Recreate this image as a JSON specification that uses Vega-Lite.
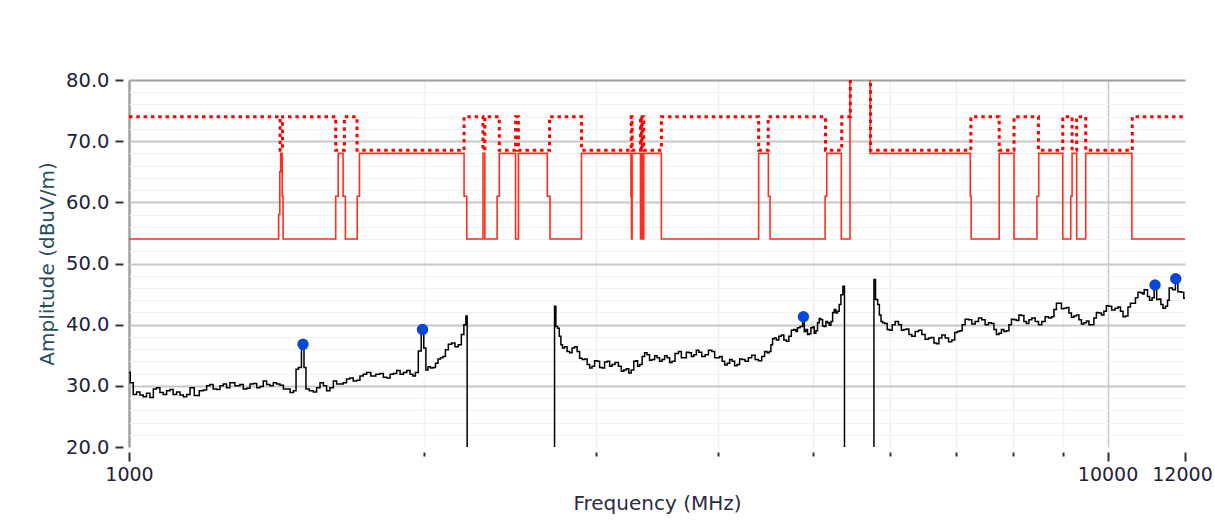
{
  "$schema": "https://vega.github.io/schema/vega-lite/v6.json",
  "width": 1056,
  "height": 367,
  "autosize": {"type": "none"},
  "padding": {"left": 129, "top": 80, "right": 30, "bottom": 78},
  "background": "white",
  "config": {
    "view": {"stroke": null},
    "font": "DejaVu Sans",
    "axis": {"labelFont": "DejaVu Sans", "titleFont": "DejaVu Sans"}
  },
  "datasets": {
    "trace": [
      {"freq":1000,"level":32.2},{"freq":1006,"level":30.5},{"freq":1014,"level":28.6},{"freq":1022,"level":29.0},{"freq":1030,"level":28.5},{"freq":1038,"level":28.2},{"freq":1046,"level":28.8},{"freq":1055,"level":28.1},{"freq":1063,"level":29.5},{"freq":1071,"level":29.7},{"freq":1080,"level":28.9},{"freq":1088,"level":28.6},{"freq":1097,"level":29.2},{"freq":1105,"level":29.4},{"freq":1114,"level":28.6},{"freq":1123,"level":29.0},{"freq":1132,"level":28.5},{"freq":1141,"level":28.2},{"freq":1150,"level":28.6},{"freq":1159,"level":29.7},{"freq":1173,"level":28.4},{"freq":1187,"level":29.2},{"freq":1196,"level":29.3},{"freq":1205,"level":30.0},{"freq":1214,"level":30.2},{"freq":1224,"level":29.5},{"freq":1234,"level":29.4},{"freq":1244,"level":30.0},{"freq":1253,"level":30.3},{"freq":1263,"level":29.7},{"freq":1273,"level":30.5},{"freq":1293,"level":30.0},{"freq":1303,"level":30.2},{"freq":1314,"level":29.5},{"freq":1324,"level":29.6},{"freq":1335,"level":30.3},{"freq":1345,"level":30.4},{"freq":1356,"level":29.7},{"freq":1366,"level":29.9},{"freq":1377,"level":30.8},{"freq":1388,"level":30.2},{"freq":1399,"level":30.0},{"freq":1410,"level":30.5},{"freq":1421,"level":30.3},{"freq":1432,"level":30.1},{"freq":1444,"level":29.5},{"freq":1455,"level":29.5},{"freq":1467,"level":28.9},{"freq":1478,"level":29.2},{"freq":1485,"level":32.7},{"freq":1495,"level":33.0},{"freq":1506,"level":36.8},{"freq":1513,"level":33.0},{"freq":1520,"level":29.5},{"freq":1537,"level":29.2},{"freq":1549,"level":29.0},{"freq":1561,"level":29.7},{"freq":1574,"level":30.5},{"freq":1586,"level":30.0},{"freq":1598,"level":29.2},{"freq":1611,"level":29.7},{"freq":1624,"level":30.8},{"freq":1636,"level":30.3},{"freq":1649,"level":30.3},{"freq":1662,"level":30.5},{"freq":1675,"level":31.1},{"freq":1688,"level":31.3},{"freq":1702,"level":30.8},{"freq":1715,"level":30.9},{"freq":1729,"level":31.6},{"freq":1742,"level":31.9},{"freq":1756,"level":32.2},{"freq":1777,"level":31.6},{"freq":1798,"level":31.9},{"freq":1812,"level":32.0},{"freq":1827,"level":31.4},{"freq":1841,"level":31.3},{"freq":1856,"level":31.9},{"freq":1870,"level":32.0},{"freq":1885,"level":32.5},{"freq":1900,"level":31.9},{"freq":1915,"level":32.2},{"freq":1930,"level":32.5},{"freq":1945,"level":31.9},{"freq":1956,"level":31.6},{"freq":1968,"level":32.2},{"freq":1983,"level":35.7},{"freq":1995,"level":39.2},{"freq":2007,"level":36.2},{"freq":2015,"level":32.6},{"freq":2027,"level":33.1},{"freq":2039,"level":32.9},{"freq":2051,"level":33.0},{"freq":2063,"level":33.7},{"freq":2075,"level":34.4},{"freq":2087,"level":34.6},{"freq":2099,"level":34.8},{"freq":2112,"level":35.9},{"freq":2128,"level":36.8},{"freq":2145,"level":37.0},{"freq":2162,"level":36.4},{"freq":2179,"level":36.7},{"freq":2193,"level":38.4},{"freq":2205,"level":40.0},{"freq":2214,"level":41.4},{"freq":2218,"level":10},
      {"freq":2719,"level":10},{"freq":2725,"level":43.0},{"freq":2736,"level":39.7},{"freq":2747,"level":39.4},{"freq":2758,"level":38.1},{"freq":2768,"level":36.7},{"freq":2779,"level":36.2},{"freq":2795,"level":36.4},{"freq":2812,"level":35.6},{"freq":2828,"level":35.4},{"freq":2845,"level":36.2},{"freq":2862,"level":36.4},{"freq":2879,"level":35.6},{"freq":2896,"level":34.5},{"freq":2913,"level":34.3},{"freq":2930,"level":34.4},{"freq":2948,"level":33.5},{"freq":2965,"level":32.9},{"freq":2982,"level":33.2},{"freq":3000,"level":34.1},{"freq":3018,"level":34.0},{"freq":3035,"level":33.0},{"freq":3053,"level":32.9},{"freq":3071,"level":33.9},{"freq":3090,"level":34.0},{"freq":3108,"level":33.2},{"freq":3126,"level":33.5},{"freq":3151,"level":33.8},{"freq":3176,"level":33.2},{"freq":3194,"level":32.4},{"freq":3213,"level":32.6},{"freq":3232,"level":32.8},{"freq":3251,"level":32.1},{"freq":3270,"level":32.6},{"freq":3290,"level":34.0},{"freq":3303,"level":34.1},{"freq":3316,"level":33.2},{"freq":3335,"level":33.5},{"freq":3355,"level":34.8},{"freq":3374,"level":35.4},{"freq":3394,"level":35.1},{"freq":3414,"level":34.2},{"freq":3435,"level":34.3},{"freq":3455,"level":34.9},{"freq":3475,"level":34.6},{"freq":3495,"level":34.0},{"freq":3516,"level":34.3},{"freq":3537,"level":34.9},{"freq":3558,"level":34.6},{"freq":3579,"level":33.8},{"freq":3600,"level":34.0},{"freq":3629,"level":35.3},{"freq":3658,"level":35.6},{"freq":3679,"level":34.6},{"freq":3701,"level":34.6},{"freq":3723,"level":35.5},{"freq":3745,"level":35.4},{"freq":3767,"level":34.8},{"freq":3789,"level":35.1},{"freq":3811,"level":35.8},{"freq":3834,"level":35.5},{"freq":3864,"level":34.8},{"freq":3895,"level":35.1},{"freq":3925,"level":35.8},{"freq":3956,"level":35.6},{"freq":3979,"level":34.6},{"freq":4002,"level":34.6},{"freq":4026,"level":34.8},{"freq":4050,"level":34.0},{"freq":4074,"level":33.4},{"freq":4098,"level":33.7},{"freq":4122,"level":34.3},{"freq":4146,"level":34.0},{"freq":4170,"level":33.3},{"freq":4195,"level":33.5},{"freq":4220,"level":34.4},{"freq":4245,"level":34.3},{"freq":4278,"level":34.0},{"freq":4312,"level":34.6},{"freq":4346,"level":35.0},{"freq":4381,"level":34.3},{"freq":4415,"level":34.1},{"freq":4449,"level":34.8},{"freq":4475,"level":35.6},{"freq":4502,"level":35.4},{"freq":4520,"level":35.6},{"freq":4538,"level":36.7},{"freq":4556,"level":37.7},{"freq":4574,"level":37.8},{"freq":4601,"level":37.5},{"freq":4628,"level":38.1},{"freq":4655,"level":38.3},{"freq":4683,"level":37.5},{"freq":4710,"level":37.3},{"freq":4738,"level":38.1},{"freq":4766,"level":39.1},{"freq":4794,"level":39.2},{"freq":4812,"level":38.9},{"freq":4831,"level":39.5},{"freq":4870,"level":39.7},{"freq":4889,"level":41.3},{"freq":4908,"level":38.9},{"freq":4927,"level":39.2},{"freq":4946,"level":38.4},{"freq":4966,"level":38.5},{"freq":4986,"level":39.5},{"freq":5005,"level":39.6},{"freq":5025,"level":38.6},{"freq":5044,"level":39.0},{"freq":5064,"level":40.3},{"freq":5084,"level":41.0},{"freq":5105,"level":40.8},{"freq":5125,"level":39.8},{"freq":5145,"level":39.7},{"freq":5165,"level":40.5},{"freq":5185,"level":40.3},{"freq":5206,"level":39.9},{"freq":5227,"level":40.5},{"freq":5247,"level":42.0},{"freq":5267,"level":42.5},{"freq":5287,"level":41.9},{"freq":5308,"level":42.2},{"freq":5329,"level":43.3},{"freq":5351,"level":44.9},{"freq":5380,"level":46.3},{"freq":5390,"level":10},
      {"freq":5768,"level":10},{"freq":5775,"level":47.4},{"freq":5811,"level":44.1},{"freq":5834,"level":43.3},{"freq":5857,"level":41.6},{"freq":5880,"level":40.5},{"freq":5902,"level":40.3},{"freq":5937,"level":40.2},{"freq":5972,"level":39.2},{"freq":6007,"level":39.1},{"freq":6043,"level":40.0},{"freq":6091,"level":40.5},{"freq":6139,"level":40.0},{"freq":6175,"level":39.1},{"freq":6212,"level":39.2},{"freq":6248,"level":39.3},{"freq":6285,"level":38.4},{"freq":6335,"level":38.1},{"freq":6385,"level":38.9},{"freq":6435,"level":39.1},{"freq":6485,"level":38.4},{"freq":6536,"level":37.6},{"freq":6588,"level":37.8},{"freq":6627,"level":37.9},{"freq":6666,"level":37.0},{"freq":6705,"level":36.9},{"freq":6745,"level":37.8},{"freq":6798,"level":38.3},{"freq":6852,"level":37.8},{"freq":6905,"level":37.2},{"freq":6959,"level":37.5},{"freq":7000,"level":38.7},{"freq":7042,"level":38.9},{"freq":7083,"level":39.0},{"freq":7125,"level":40.0},{"freq":7181,"level":40.9},{"freq":7238,"level":40.8},{"freq":7295,"level":40.1},{"freq":7353,"level":40.5},{"freq":7410,"level":41.1},{"freq":7468,"level":40.8},{"freq":7527,"level":40.0},{"freq":7587,"level":40.3},{"freq":7632,"level":40.2},{"freq":7677,"level":39.2},{"freq":7722,"level":38.4},{"freq":7768,"level":38.6},{"freq":7814,"level":39.2},{"freq":7860,"level":38.9},{"freq":7906,"level":39.0},{"freq":7953,"level":40.0},{"freq":8000,"level":40.9},{"freq":8047,"level":40.8},{"freq":8094,"level":40.7},{"freq":8142,"level":41.6},{"freq":8190,"level":41.5},{"freq":8238,"level":40.5},{"freq":8287,"level":40.2},{"freq":8336,"level":40.8},{"freq":8402,"level":41.1},{"freq":8468,"level":40.5},{"freq":8534,"level":40.0},{"freq":8601,"level":40.5},{"freq":8669,"level":41.3},{"freq":8738,"level":41.1},{"freq":8789,"level":41.3},{"freq":8841,"level":42.5},{"freq":8893,"level":43.5},{"freq":8946,"level":43.5},{"freq":8998,"level":42.6},{"freq":9051,"level":42.7},{"freq":9105,"level":42.8},{"freq":9159,"level":41.9},{"freq":9213,"level":41.2},{"freq":9267,"level":41.4},{"freq":9322,"level":41.6},{"freq":9377,"level":40.8},{"freq":9432,"level":40.1},{"freq":9488,"level":40.3},{"freq":9544,"level":40.6},{"freq":9600,"level":40.0},{"freq":9656,"level":40.0},{"freq":9713,"level":41.1},{"freq":9770,"level":42.0},{"freq":9828,"level":41.9},{"freq":9886,"level":41.6},{"freq":9944,"level":42.2},{"freq":10001,"level":43.1},{"freq":10059,"level":43.0},{"freq":10139,"level":42.4},{"freq":10219,"level":42.7},{"freq":10279,"level":42.9},{"freq":10340,"level":42.2},{"freq":10401,"level":41.3},{"freq":10462,"level":41.4},{"freq":10524,"level":42.9},{"freq":10586,"level":43.5},{"freq":10648,"level":43.5},{"freq":10711,"level":44.4},{"freq":10774,"level":45.3},{"freq":10838,"level":45.2},{"freq":10880,"level":45.0},{"freq":10922,"level":45.7},{"freq":10965,"level":45.7},{"freq":11008,"level":44.6},{"freq":11073,"level":44.0},{"freq":11138,"level":44.4},{"freq":11182,"level":46.5},{"freq":11270,"level":44.1},{"freq":11315,"level":44.2},{"freq":11360,"level":43.3},{"freq":11427,"level":42.7},{"freq":11494,"level":43.0},{"freq":11539,"level":44.0},{"freq":11584,"level":46.0},{"freq":11721,"level":45.7},{"freq":11741,"level":47.5},{"freq":11860,"level":45.4},{"freq":11930,"level":45.3},{"freq":12000,"level":44.3}
    ],
    "peak": [
      {"freq":1000,"level":74},{"freq":1427,"level":68.5},{"freq":1435,"level":74},{"freq":1626.5,"level":68.5},{"freq":1660,"level":74},{"freq":1710,"level":68.5},{"freq":2200,"level":74},{"freq":2300,"level":68.5},{"freq":2310,"level":74},{"freq":2390,"level":68.5},{"freq":2483.5,"level":74},{"freq":2500,"level":68.5},{"freq":2690,"level":74},{"freq":2900,"level":68.5},{"freq":3260,"level":74},{"freq":3267,"level":68.5},{"freq":3332,"level":74},{"freq":3339,"level":68.5},{"freq":3345.8,"level":74},{"freq":3358,"level":68.5},{"freq":3500,"level":74},{"freq":4400,"level":68.5},{"freq":4500,"level":74},{"freq":5150,"level":68.5},{"freq":5350,"level":74},{"freq":5460,"level":85},{"freq":5725,"level":68.5},{"freq":7250,"level":74},{"freq":7750,"level":68.5},{"freq":8025,"level":74},{"freq":8500,"level":68.5},{"freq":9000,"level":74},{"freq":9200,"level":68.5},{"freq":9300,"level":74},{"freq":9500,"level":68.5},{"freq":10600,"level":74},{"freq":12000,"level":74}
    ],
    "avg": [
      {"freq":1000,"level":54},{"freq":1422,"level":58},{"freq":1426,"level":65},{"freq":1429,"level":68},{"freq":1434,"level":61},{"freq":1437,"level":54},{"freq":1626.5,"level":61},{"freq":1636,"level":68},{"freq":1655,"level":61},{"freq":1664,"level":54},{"freq":1711,"level":61},{"freq":1720,"level":68},{"freq":2200,"level":61},{"freq":2214,"level":54},{"freq":2300,"level":68},{"freq":2310,"level":54},{"freq":2378,"level":61},{"freq":2390,"level":68},{"freq":2483.5,"level":54},{"freq":2500,"level":68},{"freq":2676,"level":61},{"freq":2693,"level":54},{"freq":2900,"level":68},{"freq":3258,"level":61},{"freq":3262,"level":54},{"freq":3267,"level":68},{"freq":3332,"level":54},{"freq":3339,"level":68},{"freq":3345.8,"level":54},{"freq":3358,"level":68},{"freq":3500,"level":54},{"freq":4400,"level":68},{"freq":4502,"level":61},{"freq":4520,"level":54},{"freq":5145,"level":61},{"freq":5165,"level":68},{"freq":5345,"level":54},{"freq":5455,"level":85},{"freq":5720,"level":68},{"freq":7240,"level":61},{"freq":7255,"level":54},{"freq":7750,"level":68},{"freq":8025,"level":54},{"freq":8470,"level":61},{"freq":8505,"level":68},{"freq":9000,"level":54},{"freq":9171,"level":61},{"freq":9200,"level":68},{"freq":9300,"level":54},{"freq":9500,"level":68},{"freq":10590,"level":54},{"freq":12000,"level":54}
    ],
    "markers": [
      {"freq":1506,"level":36.8},{"freq":1995,"level":39.2},{"freq":4889,"level":41.3},{"freq":11182,"level":46.5},{"freq":11741,"level":47.5}
    ]
  },
  "encoding": {
    "x": {
      "field": "freq",
      "type": "quantitative",
      "scale": {"type": "log", "domain": [1000, 12000], "nice": false},
      "axis": {
        "title": "Frequency (MHz)",
        "values": [1000, 2000, 3000, 4000, 5000, 6000, 7000, 8000, 9000, 10000, 12000],
        "format": "d",
        "labelExpr": "(datum.value == 1000 || datum.value == 10000 || datum.value == 12000) ? datum.label : ''",
        "domain": false,
        "offset": 5,
        "ticks": true,
        "tickSize": {"condition": {"test": "datum.value == 1000 || datum.value == 10000 || datum.value == 12000", "value": 9}, "value": 4},
        "tickColor": "#333333",
        "tickWidth": 2,
        "labelFontSize": 19,
        "labelColor": "#222238",
        "labelPadding": 4,
        "labelOffset": {"condition": {"test": "datum.value == 12000", "value": -3}, "value": 0},
        "labelFlush": false,
        "labelOverlap": false,
        "labelBound": false,
        "grid": true,
        "gridColor": {"condition": [{"test": "datum.value == 1000", "value": "#a0a0a0"}, {"test": "datum.value == 10000", "value": "#c8c8c8"}, {"test": "datum.value == 12000", "value": "rgba(0,0,0,0)"}], "value": "#efefef"},
        "gridWidth": {"condition": {"test": "datum.value == 1000", "value": 2.5}, "value": 1.5},
        "titleFontSize": 20,
        "titleFontWeight": "normal",
        "titleColor": "#2b2b45",
        "titlePadding": 9
      }
    },
    "y": {
      "field": "level",
      "type": "quantitative",
      "scale": {"domain": [20, 80], "nice": false, "zero": false},
      "axis": {
        "title": "Amplitude (dBuV/m)",
        "values": [20, 22, 24, 26, 28, 30, 32, 34, 36, 38, 40, 42, 44, 46, 48, 50, 52, 54, 56, 58, 60, 62, 64, 66, 68, 70, 72, 74, 76, 78, 80],
        "format": ".1f",
        "labelExpr": "datum.value % 10 == 0 ? datum.label : ''",
        "domain": false,
        "offset": 6,
        "tickSize": 8,
        "tickOpacity": {"condition": {"test": "datum.value % 10 == 0", "value": 1}, "value": 0},
        "tickColor": "#333333",
        "tickWidth": 2,
        "labelFontSize": 19.5,
        "labelColor": "#222238",
        "labelPadding": 6,
        "labelOverlap": false,
        "labelBound": false,
        "grid": true,
        "gridColor": {"condition": [{"test": "datum.value == 80", "value": "#a0a0a0"}, {"test": "datum.value == 20", "value": "rgba(0,0,0,0)"}, {"test": "datum.value % 10 == 0", "value": "#c8c8c8"}], "value": "#f1f1f1"},
        "gridWidth": {"condition": {"test": "datum.value % 10 == 0", "value": 2}, "value": 1},
        "titleFontSize": 20,
        "titleFontWeight": "normal",
        "titleColor": "#1f4f5f",
        "titlePadding": 8
      }
    }
  },
  "layer": [
    {
      "data": {"name": "avg"},
      "mark": {"type": "line", "interpolate": "step-after", "color": "#ff2d1e", "strokeWidth": 1.6, "clip": true}
    },
    {
      "data": {"name": "peak"},
      "mark": {"type": "line", "interpolate": "step-after", "color": "#ff0000", "strokeWidth": 3, "strokeDash": [3.5, 3.8], "clip": true}
    },
    {
      "data": {"name": "trace"},
      "mark": {"type": "line", "interpolate": "step", "color": "#000000", "strokeWidth": 1.5, "clip": true}
    },
    {
      "data": {"name": "markers"},
      "mark": {"type": "point", "filled": true, "shape": "circle", "size": 130, "color": "#0a46d8", "opacity": 1}
    }
  ]
}
